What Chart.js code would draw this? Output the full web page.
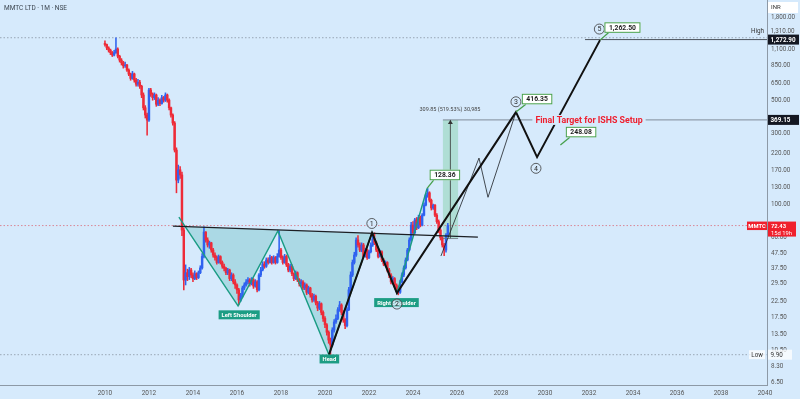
<!DOCTYPE html>
<html>
<head>
<meta charset="utf-8">
<script src="https://cdn.jsdelivr.net/npm/chart.js@4.4.0/dist/chart.umd.min.js"></script>
<style>
  html, body { margin: 0; padding: 0; background: #d6eafc; }
  #wrap { width: 800px; height: 399px; }
</style>
</head>
<body>
<div id="wrap"><canvas id="chart" width="800" height="399"></canvas></div>
<script>
// Monthly candles, first one is Jan 2010
const startYear = 2010;
const firstOpen = 1200;
const closes = [
  1180, 1120, 1083, 1040, 1003, 1040, 1100, 985, 928, 890, 850, 860,
  796, 748, 700, 750, 682, 640, 660, 620, 542, 445, 398, 368,
  585, 550, 520, 542, 470, 501, 475, 520, 501, 542, 501, 445,
  398, 352, 232, 146, 171, 158, 67.6, 31.3, 35, 33, 36.5, 33.8,
  32, 34.5, 32.5, 35, 37.7, 45, 65.5, 58, 53.7, 55.5, 49.7, 46,
  44.2, 41, 44.9, 41, 38.7, 37.5, 35, 36.5, 32, 33.8, 30.4, 29,
  26.9, 23, 24.4, 27.7, 29, 30.4, 31.3, 29.5, 31.3, 28.5, 30.4, 26.9,
  33.8, 36.5, 40, 38.7, 42.6, 41, 44.2, 41, 44.2, 41, 45, 49.7,
  44.2, 41, 45, 39.5, 36.5, 38.7, 34.5, 32, 35, 31.3, 29.5, 30.4,
  27.7, 29, 25.9, 27.7, 24.9, 23, 24.4, 22, 20.3, 21.7, 19, 17.3,
  15.7, 14, 12.4, 11.5, 14.5, 16.4, 17.3, 19.8, 21.3, 19, 16.9, 15.5,
  19.8, 26.9, 33.8, 41, 46, 58, 53.7, 49.7, 53.7, 45, 49.7, 44.2,
  48.4, 53.7, 59, 55.5, 49.7, 45, 48.4, 42.6, 40, 41, 36.5, 33.8,
  30.4, 32, 29, 27.7, 25.9, 30.4, 33.8, 37.7, 42.6, 49.7, 58, 73,
  64.8, 79, 70, 82, 73, 85, 99.3, 116, 120, 107, 95, 99.3,
  85, 77, 67.6, 60, 53.7, 49.7, 62.6, 72.43
];
const highs = [
  1250, 1190, 1140, 1100, 1060, 1080, 1310, 1120, 1000, 950, 910, 900,
  870, 810, 760, 780, 760, 700, 690, 680, 630, 560, 460, 410,
  600, 600, 560, 560, 550, 520, 510, 540, 530, 560, 550, 510,
  450, 405, 360, 240, 184, 180, 165, 70, 39.5, 37, 38, 37.5,
  35, 36, 35, 36, 39, 47, 71, 66, 60, 57, 56, 51,
  47.5, 45.5, 46, 45.5, 42, 40, 38, 37.5, 37, 35, 34.5, 31.5,
  29.5, 27.5, 25.5, 28.5, 30, 31.5, 32.5, 32, 32.5, 32, 31.5, 31,
  34.5, 38, 41.5, 41.5, 44, 44, 46, 45, 45.5, 45, 47, 66.6,
  51, 45.5, 46.5, 46, 40.5, 40, 39.5, 35, 36, 35.5, 32, 31.5,
  31, 30, 29.5, 28.5, 28, 25.5, 25.2, 24.8, 22.5, 22.5, 22, 19.5,
  17.8, 16, 14.3, 12.8, 15, 17, 18.3, 20.5, 22.5, 21.7, 19.5, 17.3,
  20.5, 28, 35.5, 42.6, 48, 60, 62, 55.5, 55.5, 55, 51, 50.5,
  49.7, 55.5, 62.6, 64.8, 57, 51, 49.7, 49, 43.5, 42, 41.5, 37.5,
  34.5, 33, 32.5, 29.5, 28.5, 31.3, 35, 39, 44, 51, 60, 76,
  77, 81, 82, 85, 84, 87, 103, 119, 128.36, 122, 109, 101,
  100, 87, 79, 69, 61, 55, 64, 75
];
const lows = [
  1150, 1090, 1050, 1010, 980, 990, 1030, 960, 900, 860, 820, 830,
  780, 730, 680, 690, 660, 620, 620, 600, 520, 430, 380, 292,
  360, 530, 500, 505, 455, 460, 460, 470, 485, 490, 485, 430,
  385, 340, 225, 120, 140, 150, 62, 26.9, 29, 31, 31.5, 32.5,
  30.5, 31.5, 31.5, 32, 34.5, 37, 44, 56, 52, 51, 48, 44.5,
  42.5, 40, 40.5, 40, 37.5, 36, 34, 34, 31, 31, 29.5, 27.5,
  25.5, 21.3, 22.5, 24, 27, 28.5, 29.5, 28.5, 29, 27.5, 28, 26,
  26.5, 33, 36, 37.5, 38, 40, 40.5, 40, 40.5, 40, 40.5, 44.5,
  43, 40, 40.5, 38.5, 35.5, 35.5, 33.5, 31, 31.5, 30.5, 28.5, 28.5,
  27, 27, 25, 25.3, 24, 22.2, 22.5, 21.3, 19.5, 19.8, 18.3, 16.5,
  15, 13.4, 11.8, 9.9, 11.2, 14, 16, 17, 19.3, 18.3, 16.3, 14.8,
  15.2, 19.5, 26, 33, 40, 45, 52, 48.4, 48.4, 44, 44.5, 43,
  43.5, 47.5, 52.5, 54, 48.4, 44, 44.5, 41.5, 39, 38.7, 35.5, 32.5,
  29.5, 29.5, 28, 26.5, 24.9, 25.5, 30, 33, 37, 42, 49, 57,
  63, 64, 68, 69, 71, 72, 84, 98, 112, 104, 92, 93,
  83, 75, 65, 58, 52, 45.5, 48, 61
];
// each month opens where the previous one closed
const opens = closes.map((c, i) => i === 0 ? firstOpen : closes[i - 1]);
const monthX = closes.map((c, i) => startYear + i / 12);

const yearTicks = [2010, 2012, 2014, 2016, 2018, 2020, 2022, 2024, 2026, 2028, 2030, 2032, 2034, 2036, 2038, 2040];
const priceTicks = [1800, 1100, 850, 650, 500, 300, 220, 170, 130, 100, 60, 47.5, 37.5, 29.5, 22.5, 17.5, 13.5, 10.5, 8.3, 6.5];

// drawings
const necklineX = [2013.09, 2026.95];
const necklineY = [71.9, 60.7];
const patternX = [2013.36, 2016.05, 2017.86, 2020.18, 2022.14, 2023.27, 2024.64];
const patternY = [82.6, 21, 66.6, 9.9, 64.8, 25.6, 128.36];
const patternFillX = [2013.64, 2016.05, 2017.86, 2020.18, 2022.14, 2023.27, 2024.0, 2013.64];
const patternFillY = [71.5, 21, 66.6, 9.9, 64.8, 25.6, 62.9, 71.5];
const waveX = [2020.18, 2022.14, 2023.27, 2028.68, 2029.64, 2032.5];
const waveY = [9.9, 64.8, 25.6, 416.35, 208, 1262.5];
const altX = [2025.27, 2027.0, 2027.41, 2028.68];
const altY = [45.3, 205, 112, 416.35];

const highPrice = 1310;
const lowPrice = 9.9;
const lastPrice = 72.43;
const targetPrice = 369.15;
const measureBase = 59.3;
const wave5Level = 1272.9;

const X_MIN = 2005.23, X_MAX = 2040.09;
const BG = '#d6eafc';
const UP = '#2f62f0', DOWN = '#ee2b38';
const FONT = 'Roboto, "Liberation Sans", sans-serif';

function pts(xs, ys) {
  return xs.map((v, i) => ({ x: v, y: ys[i] }));
}
function lineSet(xs, ys, style) {
  return Object.assign({
    type: 'line', data: pts(xs, ys), pointRadius: 0, borderWidth: 1,
    tension: 0, fill: false
  }, style);
}
const candleColor = ctx => closes[ctx.dataIndex] >= opens[ctx.dataIndex] ? UP : DOWN;

const overlay = {
  id: 'overlay',
  beforeDraw(chart) {
    const c = chart.ctx;
    c.save();
    c.fillStyle = BG;
    c.fillRect(0, 0, chart.width, chart.height);
    c.restore();
  },
  afterDatasetsDraw(chart) {
    const c = chart.ctx;
    const { x, y } = chart.scales;
    const area = chart.chartArea;
    const px = v => x.getPixelForValue(v);
    const py = v => y.getPixelForValue(v);
    c.save();
    c.textBaseline = 'middle';

    // title
    c.font = '6.5px ' + FONT;
    c.fillStyle = '#3c4650';
    c.textAlign = 'left';
    c.fillText('MMTC LTD · 1M · NSE', 4, 8);

    // measure arrow head + text
    const ax = px(2025.7), ay = py(targetPrice);
    c.fillStyle = '#333';
    c.beginPath();
    c.moveTo(ax, ay); c.lineTo(ax - 2.5, ay + 4); c.lineTo(ax + 2.5, ay + 4); c.closePath();
    c.fill();
    c.font = '5.5px ' + FONT;
    c.fillStyle = '#444';
    c.textAlign = 'center';
    c.fillText('309.85 (519.53%) 30,985', px(2025.68), ay - 10);

    // final target text, cutting the line
    c.font = 'bold 8.8px ' + FONT;
    const tt = 'Final Target for ISHS Setup';
    const tw = c.measureText(tt).width;
    const tx = px(2032.0);
    c.fillStyle = BG;
    c.fillRect(tx - tw / 2 - 3, ay - 5, tw + 6, 10);
    c.fillStyle = '#ee2030';
    c.fillText(tt, tx, ay + 0.5);

    // teal tags
    const tags = [
      { x: 2016.1, y: 18.3, t: 'Left Shoulder' },
      { x: 2020.2, y: 9.27, t: 'Head' },
      { x: 2023.25, y: 22.1, t: 'Right Shoulder' }
    ];
    c.font = 'bold 5.8px ' + FONT;
    tags.forEach(g => {
      const w = c.measureText(g.t).width + 6;
      const gx = px(g.x), gy = py(g.y);
      c.fillStyle = '#1c9d84';
      c.fillRect(gx - w / 2, gy - 4.5, w, 9);
      c.fillStyle = '#fff';
      c.fillText(g.t, gx, gy + 0.5);
    });

    // circled wave numbers
    const circles = [
      { x: 2022.13, y: 74.8, n: '1' },
      { x: 2023.27, y: 21.6, n: '2' },
      { x: 2028.68, y: 488, n: '3' },
      { x: 2029.59, y: 175, n: '4' },
      { x: 2032.47, y: 1497, n: '5' }
    ];
    c.font = '7px ' + FONT;
    circles.forEach(o => {
      const cx = px(o.x), cy = py(o.y);
      c.beginPath();
      c.arc(cx, cy, 5, 0, Math.PI * 2);
      c.fillStyle = 'rgba(214,234,252,0.6)';
      c.fill();
      c.lineWidth = 0.8;
      c.strokeStyle = '#3a3a3a';
      c.stroke();
      c.fillStyle = '#2a2a2a';
      c.fillText(o.n, cx, cy + 0.5);
    });

    // price callouts
    const callouts = [
      { x: 2024.64, y: 128.36, bx: 2025.45, by: 158, t: '128.36' },
      { x: 2028.68, y: 416.35, bx: 2029.64, by: 509, t: '416.35' },
      { x: 2032.5, y: 1262.5, bx: 2033.52, by: 1532, t: '1,262.50' },
      { x: 2030.7, y: 251, bx: 2031.64, by: 306, t: '248.08' }
    ];
    c.font = 'bold 6.8px ' + FONT;
    callouts.forEach(o => {
      const w = c.measureText(o.t).width + 9;
      const h = 10.5;
      const bx = px(o.bx), by = py(o.by);
      const left = bx - w / 2, top = by - h / 2;
      c.strokeStyle = '#46a04c';
      c.lineWidth = 1.3;
      c.beginPath();
      c.moveTo(px(o.x), py(o.y));
      c.lineTo(left + 4, top + h);
      c.stroke();
      c.fillStyle = '#fff';
      c.fillRect(left, top, w, h);
      c.lineWidth = 1;
      c.strokeRect(left + 0.5, top + 0.5, w - 1, h - 1);
      c.fillStyle = '#1e1e1e';
      c.fillText(o.t, bx, by + 0.5);
    });

    // right axis markers
    const R = area.right;
    c.textAlign = 'left';
    c.font = 'bold 6.3px ' + FONT;
    const box = (yPix, text, bg, fg) => {
      c.fillStyle = bg;
      c.fillRect(R + 1, yPix - 5, 31, 10);
      c.fillStyle = fg;
      c.fillText(text, R + 3.5, yPix + 0.5);
    };
    box(py(wave5Level), '1,272.90', '#131722', '#fff');
    box(py(targetPrice), '369.15', '#131722', '#fff');

    // high label
    const hy = py(highPrice) - 6;
    c.font = '6.3px ' + FONT;
    c.fillStyle = '#555';
    c.fillText('1,310.00', R + 3.5, hy);
    c.fillStyle = '#333';
    c.textAlign = 'right';
    c.fillText('High', R - 3, hy);

    // low label
    const ly = py(lowPrice);
    c.fillStyle = 'rgba(255,255,255,0.75)';
    c.fillRect(R - 18, ly - 4.5, 16, 9);
    c.fillRect(R + 1, ly - 5, 24, 10);
    c.fillStyle = '#333';
    c.fillText('Low', R - 4, ly + 0.5);
    c.textAlign = 'left';
    c.fillText('9.90', R + 3.5, ly + 0.5);

    // last price
    const py0 = py(lastPrice);
    c.fillStyle = '#f0202c';
    c.fillRect(R - 20, py0 - 4, 20, 8.5);
    c.fillRect(R + 1, py0 - 4, 28, 15);
    c.fillStyle = '#fff';
    c.font = 'bold 5.8px ' + FONT;
    c.textAlign = 'center';
    c.fillText('MMTC', R - 10, py0 + 0.5);
    c.textAlign = 'left';
    c.fillText('72.43', R + 4, py0 + 0.5);
    c.font = '5.8px ' + FONT;
    c.fillText('15d 19h', R + 4, py0 + 7.5);

    // currency box
    c.fillStyle = '#fff';
    c.fillRect(R + 1, 2, 30, 11);
    c.fillStyle = '#333';
    c.font = '6px ' + FONT;
    c.fillText('INR', R + 4, 7.5);

    c.restore();
  }
};

const datasets = [
  lineSet([2025.36, 2025.36, 2026.05, 2026.05, 2025.36], [measureBase, targetPrice, targetPrice, measureBase, measureBase],
    { borderWidth: 0, backgroundColor: 'rgba(76,190,110,0.28)', fill: 'shape', order: 12 }),
  lineSet(patternFillX, patternFillY,
    { borderWidth: 0, backgroundColor: 'rgba(0,150,140,0.2)', fill: 'shape', order: 11 }),
  lineSet([X_MIN, X_MAX], [highPrice, highPrice], { borderColor: '#8a96a3', borderWidth: 0.8, borderDash: [1.5, 2], order: 10 }),
  lineSet([X_MIN, X_MAX], [lowPrice, lowPrice], { borderColor: '#8a96a3', borderWidth: 0.8, borderDash: [1.5, 2], order: 10 }),
  lineSet([X_MIN, X_MAX], [lastPrice, lastPrice], { borderColor: 'rgba(220,60,70,0.7)', borderWidth: 0.8, borderDash: [1.5, 2], order: 10 }),
  {
    type: 'bar', order: 8, grouped: false, barThickness: 0.9, borderWidth: 0,
    data: monthX.map((t, i) => ({ x: t, y: [lows[i], highs[i]] })),
    backgroundColor: candleColor
  },
  {
    type: 'bar', order: 7, grouped: false, barThickness: 1.8, borderWidth: 0,
    data: monthX.map((t, i) => ({ x: t, y: [opens[i], closes[i]] })),
    backgroundColor: candleColor
  },
  lineSet(patternX, patternY, { borderColor: '#1a9c84', borderWidth: 1.4, order: 6 }),
  lineSet(necklineX, necklineY, { borderColor: '#1c1f24', borderWidth: 1.3, order: 5 }),
  lineSet([2025.36, X_MAX], [targetPrice, targetPrice], { borderColor: '#6b7580', borderWidth: 0.8, order: 5 }),
  lineSet([2025.36, 2026.05], [measureBase, measureBase], { borderColor: '#6b7580', borderWidth: 0.8, order: 5 }),
  lineSet([2025.7, 2025.7], [measureBase, targetPrice], { borderColor: '#333', borderWidth: 0.8, order: 5 }),
  lineSet([2031.82, X_MAX], [wave5Level, wave5Level], { borderColor: '#4a525c', borderWidth: 1, order: 5 }),
  lineSet(altX, altY, { borderColor: '#1c1f24', borderWidth: 0.8, order: 4 }),
  lineSet(waveX, waveY, { borderColor: '#111', borderWidth: 2, order: 3 })
];

// keep the plot area flush with the canvas edges (no label padding)
function noPad(s) {
  s.paddingTop = 0; s.paddingBottom = 0; s.paddingLeft = 0; s.paddingRight = 0;
}

new Chart(document.getElementById('chart'), {
  type: 'bar',
  data: { datasets: datasets },
  options: {
    responsive: false,
    animation: false,
    events: [],
    layout: { padding: 0 },
    plugins: { legend: { display: false }, tooltip: { enabled: false } },
    scales: {
      x: {
        type: 'linear', min: X_MIN, max: X_MAX, bounds: 'data', offset: false,
        grid: { display: false, drawTicks: false },
        border: { display: true, color: '#8d99a6' },
        afterBuildTicks: s => { s.ticks = yearTicks.map(v => ({ value: v })); },
        afterFit: s => { s.height = 14; noPad(s); },
        ticks: {
          autoSkip: false, maxRotation: 0, padding: 4, color: '#555',
          font: { size: 6.5, family: FONT },
          callback: v => String(v)
        }
      },
      y: {
        type: 'logarithmic', position: 'right', min: 6.205, max: 2343, bounds: 'data',
        grid: { display: false, drawTicks: false },
        border: { display: true, color: '#8d99a6' },
        afterBuildTicks: s => { s.ticks = priceTicks.map(v => ({ value: v })); },
        afterFit: s => { s.width = 33; noPad(s); },
        ticks: {
          autoSkip: false, padding: 4, color: '#555',
          font: { size: 6.3, family: FONT },
          callback: v => Number(v).toLocaleString('en-US', { minimumFractionDigits: 2, maximumFractionDigits: 2 })
        }
      }
    }
  },
  plugins: [overlay]
});
</script>
</body>
</html>
